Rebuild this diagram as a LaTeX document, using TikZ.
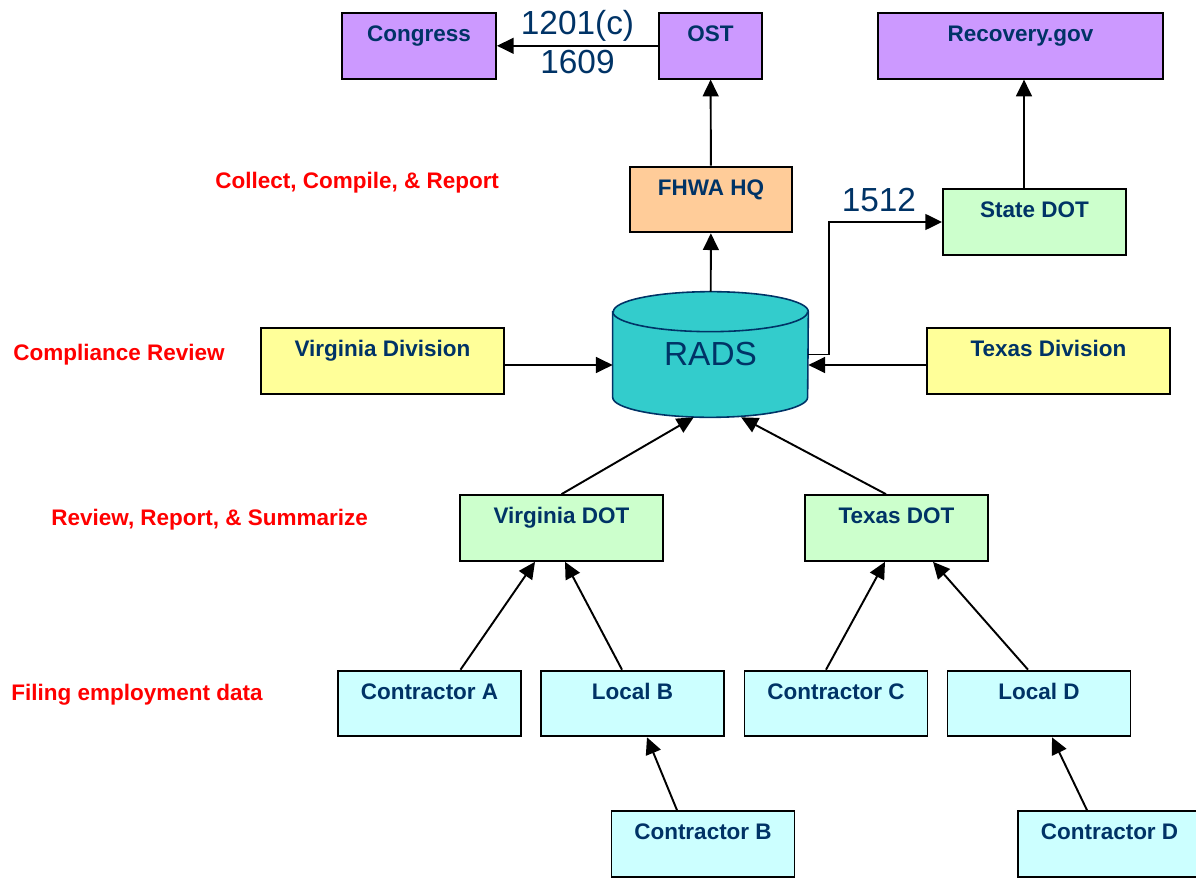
\documentclass[tikz,border=0pt]{standalone}
\usepackage{fontspec}
\setmainfont{Liberation Sans}
\usepackage{tikz}
\usetikzlibrary{arrows.meta,backgrounds}
\usepackage{xcolor}
\definecolor{dfnavy}{RGB}{0,51,102}
\definecolor{dfred}{RGB}{255,0,0}
\definecolor{dfpurple}{RGB}{204,153,255}
\definecolor{dforange}{RGB}{255,204,153}
\definecolor{dfgreen}{RGB}{204,255,204}
\definecolor{dfyellow}{RGB}{255,255,153}
\definecolor{dfcyan}{RGB}{204,255,255}
\definecolor{dfteal}{RGB}{51,204,204}
\tikzstyle{box} = [draw=black, line width=1.1pt, inner sep=0pt, text height=16.4pt, text depth=21pt, text=dfnavy, font=\fontsize{12.8}{15}\selectfont\bfseries]
\tikzstyle{stage} = [anchor=base west, inner sep=0pt, text=dfred, font=\fontsize{12.8}{15}\selectfont\bfseries]
\tikzstyle{num} = [inner sep=1pt, text=dfnavy, font=\fontsize{19}{22}\selectfont]
\tikzstyle{arrow} = [line width=1.1pt, -{Triangle[length=9.5pt,width=9pt]}]

\begin{document}
\begin{tikzpicture}[x=0.02cm, y=-0.02cm]
\useasboundingbox (0,0) rectangle (1196,878);

% Stages
\node[stage] (collect) at (215,189) {Collect, Compile, \& Report};
\node[stage] (compliance) at (13,360) {Compliance Review};
\node[stage] (review) at (51,525) {Review, Report, \& Summarize};
\node[stage] (filing) at (11,700) {Filing employment data};

% Top row
\node[box, fill=dfpurple, minimum width=3.08cm] (congress) at (419,45.8) {Congress};
\node[box, fill=dfpurple, minimum width=2.06cm] (ost) at (710.5,45.8) {OST};
\node[box, fill=dfpurple, minimum width=5.7cm] (recovery) at (1020.5,45.8) {Recovery.gov};

\node[box, fill=dforange, minimum width=3.24cm] (fhwa) at (711,199.5) {FHWA HQ};
\node[box, fill=dfgreen, minimum width=3.66cm] (statedot) at (1034.5,222) {State DOT};

% RADS
\node[inner sep=0pt, minimum width=3.9cm, minimum height=2.5cm, text=dfnavy, font=\fontsize{19}{22}\selectfont] (rads) at (710.5,354.5) {RADS};
\begin{scope}[on background layer]
\draw[fill=dfteal, draw=dfnavy, line width=0.9pt] ([shift={(0,20)}]rads.north west) -- ([shift={(0,-20)}]rads.south west)
  arc[start angle=180, end angle=360, x radius=1.95cm, y radius=0.4cm] -- ([shift={(0,20)}]rads.north east)
  arc[start angle=0, end angle=180, x radius=1.95cm, y radius=0.4cm] -- cycle;
\draw[draw=dfnavy, line width=0.9pt] ([shift={(0,20)}]rads.north west) arc[start angle=180, end angle=360, x radius=1.95cm, y radius=0.4cm];
\end{scope}

% Divisions
\node[box, fill=dfyellow, minimum width=4.86cm] (vadiv) at (382.5,361) {Virginia Division};
\node[box, fill=dfyellow, minimum width=4.86cm] (txdiv) at (1048.5,361) {Texas Division};

% State DOTs
\node[box, fill=dfgreen, minimum width=4.06cm] (vadot) at (561.5,528) {Virginia DOT};
\node[box, fill=dfgreen, minimum width=3.66cm] (txdot) at (896.5,528) {Texas DOT};

% Contractors and locals
\node[box, fill=dfcyan, minimum width=3.66cm] (cona) at (429.5,703.5) {Contractor A};
\node[box, fill=dfcyan, minimum width=3.66cm] (locb) at (632.5,703.5) {Local B};
\node[box, fill=dfcyan, minimum width=3.66cm] (conc) at (836,703.5) {Contractor C};
\node[box, fill=dfcyan, minimum width=3.66cm] (locd) at (1039,703.5) {Local D};
\node[box, fill=dfcyan, minimum width=3.66cm] (conb) at (703,844) {Contractor B};
\node[box, fill=dfcyan, minimum width=3.66cm] (cond) at (1109.5,844) {Contractor D};

% Reporting flow
\draw[arrow] (ost.west) -- node[num, above=1pt] {1201(c)} node[num, below=1pt] {1609} (congress.east);
\draw[arrow] (fhwa) -- (ost);
\draw[arrow] (rads) -- (fhwa);
\draw[arrow] (rads.east) -- ++(21,0) |- node[num, pos=0.72, above=4pt] {1512} (statedot.west);
\draw[arrow] ([shift={(-10.5,0)}]statedot.north) -- ([shift={(3.5,0)}]recovery.south);

\draw[arrow] ([shift={(0,4)}]vadiv.east) -- ([shift={(0,4)}]vadiv.east -| rads.west);
\draw[arrow] ([shift={(0,4)}]txdiv.west) -- ([shift={(0,4)}]txdiv.west -| rads.east);
\draw[arrow] (vadot.north) -- (rads.-105.6);
\draw[arrow] ([shift={(-10.5,0)}]txdot.north) -- (rads.-64.4);

\draw[arrow] ([shift={(31,0)}]cona.north) -- ([shift={(-26.5,0)}]vadot.south);
\draw[arrow] ([shift={(-10.5,0)}]locb.north) -- ([shift={(3.5,0)}]vadot.south);
\draw[arrow] ([shift={(-10,0)}]conc.north) -- ([shift={(-11.5,0)}]txdot.south);
\draw[arrow] ([shift={(-11,0)}]locd.north) -- ([shift={(36.5,0)}]txdot.south);
\draw[arrow] ([shift={(-26,0)}]conb.north) -- ([shift={(14.5,0)}]locb.south);
\draw[arrow] ([shift={(-22.5,0)}]cond.north) -- ([shift={(13,0)}]locd.south);
\end{tikzpicture}
\end{document}
